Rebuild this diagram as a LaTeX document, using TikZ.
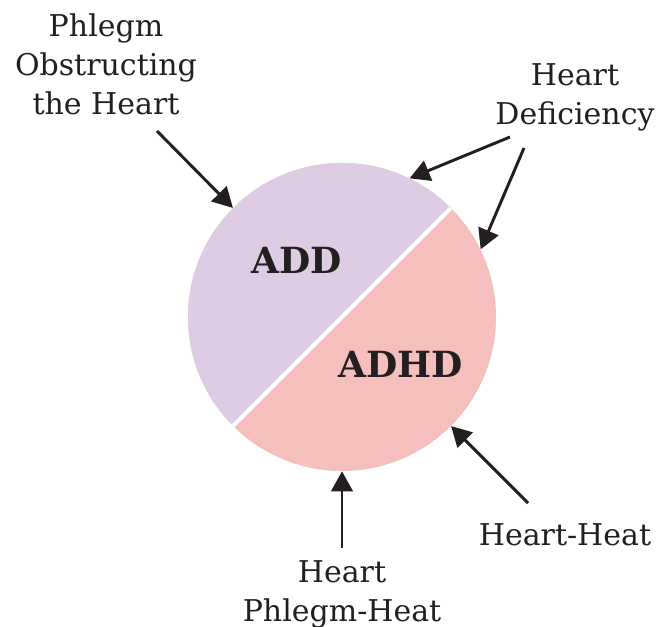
\documentclass[tikz,border=0pt]{standalone}
\usepackage{fontspec}
\setmainfont{DejaVu Serif}
\usetikzlibrary{arrows.meta}
\definecolor{addpurple}{HTML}{DDCCE4}
\definecolor{adhdpink}{HTML}{F5BFBD}
\definecolor{inkblack}{HTML}{231F20}
\tikzset{
  cause/.style = {align=center, inner sep=0pt, text=inkblack,
    font=\fontsize{22.5}{29.25}\selectfont},
  kind/.style = {inner sep=0pt, text=inkblack,
    font=\fontsize{27}{30}\selectfont\bfseries},
  feed/.style = {draw=inkblack, line width=2.2pt,
    -{Triangle[length=15pt, width=16pt]}}
}
\begin{document}
\begin{tikzpicture}[x=0.75pt, y=-0.75pt]
  \useasboundingbox (0,0) rectangle (657,627);
  \node[circle, inner sep=0pt, minimum size=231pt, fill=adhdpink,
    path picture={
      \fill[addpurple] (path picture bounding box.south west)
        -- (path picture bounding box.north west)
        -- (path picture bounding box.north east) -- cycle;
      \draw[white, line width=3pt] (path picture bounding box.south west)
        -- (path picture bounding box.north east);
    }] (disc) at (342,317) {};
  \node[kind, anchor=base] (add) at (297,274) {ADD};
  \node[kind, anchor=base] (adhd) at (401,378) {ADHD};
  \node[cause, anchor=north] (pot) at (106,13) {Phlegm\\Obstructing\\the Heart};
  \node[cause, anchor=north] (hd) at (575,63) {Heart\\Deficiency};
  \node[cause, anchor=north] (hph) at (342,560) {Heart\\Phlegm-Heat};
  \node[cause, anchor=base] (hh) at (565,545) {Heart-Heat};
  \coordinate (A) at (157,131);
  \coordinate (B) at (510,137);
  \coordinate (C) at (524,148);
  \coordinate (D) at (342,548);
  \coordinate (E) at (528,503);
  \draw[feed] (A) to (disc.135);
  \draw[feed] (B) to (disc.64);
  \draw[feed] (C) to (disc.26);
  \draw[feed] (D) to (disc.south);
  \draw[feed] (E) to (disc.-45);
\end{tikzpicture}
\end{document}
